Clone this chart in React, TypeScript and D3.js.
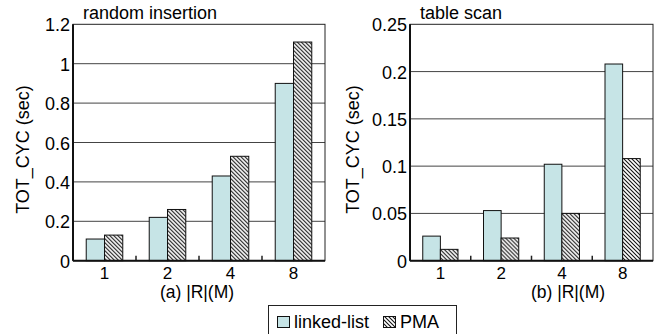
import React, { useEffect, useRef } from 'react';
import * as d3 from 'd3';

const sizes = ['1', '2', '4', '8'];
const seriesNames = ['linked-list', 'PMA'];

// random insertion, TOT_CYC (sec)
const insertLinked = [0.11, 0.22, 0.43, 0.9];
const insertPMA = [0.13, 0.26, 0.53, 1.11];
const insertTicks = [0, 0.2, 0.4, 0.6, 0.8, 1, 1.2];

// table scan, TOT_CYC (sec)
const scanLinked = [0.026, 0.053, 0.102, 0.208];
const scanPMA = [0.012, 0.024, 0.05, 0.108];
const scanTicks = [0, 0.05, 0.1, 0.15, 0.2, 0.25];

const FONT = '"Liberation Sans", Arial, Helvetica, sans-serif';
const FILL_LINKED = '#c6e4e6';

const App = () => {
  const svgRef = useRef<SVGSVGElement>(null);

  useEffect(() => {
    const svg = d3.select(svgRef.current);
    svg.selectAll('*').remove();

    const defs = svg.append('defs');
    const pat = defs
      .append('pattern')
      .attr('id', 'hatch')
      .attr('patternUnits', 'userSpaceOnUse')
      .attr('width', 4)
      .attr('height', 4);
    pat.append('rect').attr('width', 4).attr('height', 4).attr('fill', '#fff');
    pat
      .append('path')
      .attr('d', 'M-1,-1 L5,5 M3,-1 L5,1 M-1,3 L1,5')
      .attr('stroke', '#111')
      .attr('stroke-width', 1.1);

    const panels = [
      {
        title: 'random insertion',
        xTitle: '(a) |R|(M)',
        linked: insertLinked,
        pma: insertPMA,
        ticks: insertTicks,
        left: 73,
        right: 325,
        xTitleX: 197,
        yLabelX: 29,
      },
      {
        title: 'table scan',
        xTitle: '(b) |R|(M)',
        linked: scanLinked,
        pma: scanPMA,
        ticks: scanTicks,
        left: 410,
        right: 653,
        xTitleX: 568,
        yLabelX: 359,
      },
    ];

    const top = 24.3;
    const bottom = 260.7;

    panels.forEach((p) => {
      const g = svg.append('g');
      const yMax = p.ticks[p.ticks.length - 1];
      const y = d3.scaleLinear().domain([0, yMax]).range([bottom, top]);
      const x0 = d3
        .scaleBand()
        .domain(sizes)
        .range([p.left, p.right])
        .paddingInner(0.42)
        .paddingOuter(0.21);
      const x1 = d3.scaleBand().domain(seriesNames).range([0, x0.bandwidth()]);
      const outer = d3.scaleBand().domain(sizes).range([p.left, p.right]);

      // gridlines
      g.selectAll('.grid')
        .data(p.ticks.slice(1, -1))
        .enter()
        .append('line')
        .attr('x1', p.left)
        .attr('x2', p.right)
        .attr('y1', (d) => y(d))
        .attr('y2', (d) => y(d))
        .attr('stroke', '#444')
        .attr('stroke-width', 1);

      // tick labels
      g.selectAll('.ytick')
        .data(p.ticks)
        .enter()
        .append('text')
        .attr('x', p.left - 3)
        .attr('y', (d) => y(d) + 7)
        .attr('text-anchor', 'end')
        .style('font-family', FONT)
        .style('font-size', '18px')
        .text((d) => String(d));

      // bars
      const rows = sizes.map((s, i) => ({ s, vals: [p.linked[i], p.pma[i]] }));
      const grp = g
        .selectAll('.grp')
        .data(rows)
        .enter()
        .append('g')
        .attr('transform', (d) => `translate(${x0(d.s)},0)`);
      grp
        .selectAll('rect')
        .data((d) => d.vals.map((v, j) => ({ name: seriesNames[j], v })))
        .enter()
        .append('rect')
        .attr('x', (d) => x1(d.name) as number)
        .attr('width', x1.bandwidth())
        .attr('y', (d) => y(d.v))
        .attr('height', (d) => y(0) - y(d.v))
        .attr('fill', (d) => (d.name === 'PMA' ? 'url(#hatch)' : FILL_LINKED))
        .attr('stroke', '#111')
        .attr('stroke-width', 1);

      // x tick marks between categories
      g.selectAll('.xtick')
        .data(sizes.slice(1))
        .enter()
        .append('line')
        .attr('x1', (d) => outer(d) as number)
        .attr('x2', (d) => outer(d) as number)
        .attr('y1', bottom)
        .attr('y2', bottom - 5)
        .attr('stroke', '#222')
        .attr('stroke-width', 1.5);

      // x labels
      g.selectAll('.xlab')
        .data(sizes)
        .enter()
        .append('text')
        .attr('x', (d) => (outer(d) as number) + outer.bandwidth() / 2)
        .attr('y', 279)
        .attr('text-anchor', 'middle')
        .style('font-family', FONT)
        .style('font-size', '17px')
        .text((d) => d);

      // frame
      g.append('rect')
        .attr('x', p.left)
        .attr('y', top)
        .attr('width', p.right - p.left)
        .attr('height', bottom - top)
        .attr('fill', 'none')
        .attr('stroke', '#222')
        .attr('stroke-width', 1);
      g.append('line')
        .attr('x1', p.left)
        .attr('x2', p.left)
        .attr('y1', top)
        .attr('y2', bottom)
        .attr('stroke', '#111')
        .attr('stroke-width', 2);
      g.append('line')
        .attr('x1', p.left)
        .attr('x2', p.right)
        .attr('y1', bottom)
        .attr('y2', bottom)
        .attr('stroke', '#111')
        .attr('stroke-width', 2);

      // titles
      g.append('text')
        .attr('x', p.left + 10)
        .attr('y', 18.5)
        .style('font-family', FONT)
        .style('font-size', '18px')
        .text(p.title);
      g.append('text')
        .attr('x', p.xTitleX)
        .attr('y', 297.5)
        .attr('text-anchor', 'middle')
        .style('font-family', FONT)
        .style('font-size', '17.5px')
        .text(p.xTitle);
      g.append('text')
        .attr('transform', `translate(${p.yLabelX},149.5) rotate(-90)`)
        .attr('text-anchor', 'middle')
        .style('font-family', FONT)
        .style('font-size', '18px')
        .text('TOT_CYC (sec)');
    });

    // legend
    const lg = svg.append('g');
    lg.append('rect')
      .attr('x', 268.5)
      .attr('y', 305.5)
      .attr('width', 188)
      .attr('height', 40)
      .attr('fill', '#fff')
      .attr('stroke', '#222')
      .attr('stroke-width', 1);
    const items = [
      { name: seriesNames[0], fill: FILL_LINKED, x: 277 },
      { name: seriesNames[1], fill: 'url(#hatch)', x: 383 },
    ];
    items.forEach((it) => {
      lg.append('rect')
        .attr('x', it.x + 0.5)
        .attr('y', 316.5)
        .attr('width', 12)
        .attr('height', 11)
        .attr('fill', it.fill)
        .attr('stroke', '#111')
        .attr('stroke-width', 1);
      lg.append('text')
        .attr('x', it.x + 17)
        .attr('y', 327.5)
        .style('font-family', FONT)
        .style('font-size', '18px')
        .text(it.name);
    });
  }, []);

  return (
    <svg
      ref={svgRef}
      width={668}
      height={334}
      style={{ position: 'absolute', left: 0, top: 0, background: '#fff' }}
    />
  );
};

export default App;
